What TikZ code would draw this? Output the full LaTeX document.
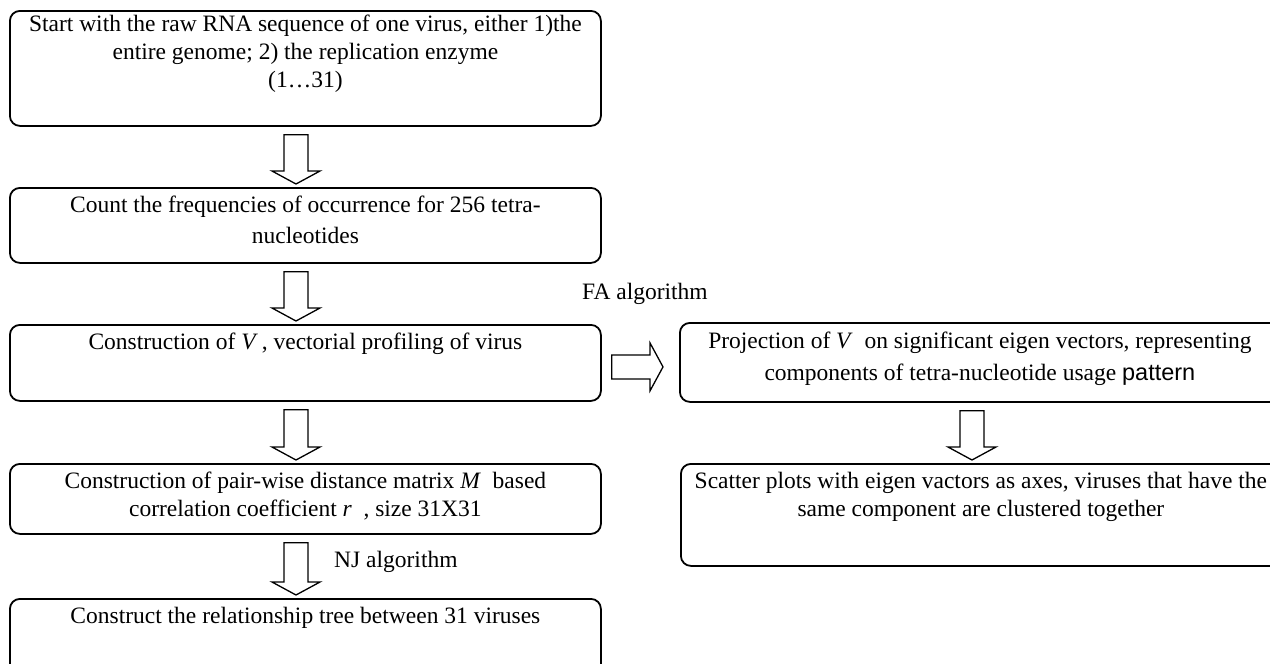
\documentclass[tikz,border=0pt]{standalone}
\usepackage{fontspec}
\setmainfont{Liberation Serif}
\newfontfamily\arialf{Liberation Sans}
\usetikzlibrary{calc}
\newcommand\boxtext[5][28pt]{\parbox[t][#2][t]{#3}{\fontsize{23.5pt}{#1}\selectfont\centering\rule{0pt}{#4}#5}}
\newcommand\blkdown[3]{%
  \draw[blk] let \p1=(#1.south), \p2=(#2.north) in
    (#3-12pt,\y1-8pt) -- (#3+12pt,\y1-8pt) -- (#3+12pt,\y2+16pt) -- (#3+24pt,\y2+16pt)
    -- (#3,\y2+3pt) -- (#3-24pt,\y2+16pt) -- (#3-12pt,\y2+16pt) -- cycle;}
\begin{document}
\begin{tikzpicture}[x=1pt,y=-1pt,
  box/.style={draw, line width=1.8pt, rounded corners=10pt, inner sep=0pt, anchor=north west},
  blk/.style={draw, line width=1.3pt, fill=white, line join=miter},
  lbl/.style={inner sep=0pt, anchor=base west}]
\useasboundingbox (0,0) rectangle (1270,664);
\fontsize{23.5}{28}\selectfont
\node[box] (b1) at (9,10) {\boxtext{115pt}{591pt}{21pt}{Start with the raw RNA sequence of one virus, either 1)the\\ entire genome; 2) the replication enzyme\\ (1…31)}};
\node[box] (b2) at (9,187) {\boxtext[31pt]{75pt}{591pt}{25pt}{Count the frequencies of occurrence for 256 tetra-\\nucleotides}};
\node[box] (b3) at (9,324) {\boxtext{76pt}{591pt}{25pt}{Construction of \textit{V}\,, vectorial profiling of virus}};
\node[box] (b4) at (9,463) {\boxtext{70pt}{591pt}{25pt}{Construction of pair-wise distance matrix \textit{M}\enspace based\\correlation coefficient \textit{r}\enspace, size 31X31}};
\node[box] (b5) at (9,598) {\boxtext{90pt}{591pt}{25pt}{Construct the relationship tree between 31 viruses}};
\node[box] (bA) at (679,322) {\boxtext[32pt]{79pt}{600pt}{26pt}{Projection of \textit{V}\enspace on significant eigen vectors, representing\\components of tetra-nucleotide usage {\arialf pattern}}};
\node[box] (bB) at (680,463) {\boxtext{102pt}{600pt}{25pt}{\makebox[\linewidth][c]{Scatter plots with eigen vactors as axes, viruses that have the}\\same component are clustered together}};
\blkdown{b1}{b2}{296pt}
\blkdown{b2}{b3}{296pt}
\blkdown{b3}{b4}{296pt}
\blkdown{b4}{b5}{296pt}
\blkdown{bA}{bB}{972pt}
\draw[blk] let \p1=(b3.east), \p2=(bA.west) in
  (\x1+10pt,\y1-16pt) -- (\x2-29pt,\y1-16pt) -- (\x2-29pt,\y1-28pt) -- (\x2-16pt,\y1-4pt)
  -- (\x2-29pt,\y1+20pt) -- (\x2-29pt,\y1+8pt) -- (\x1+10pt,\y1+8pt) -- cycle;
\node[lbl] (fa) at (582,299) {FA algorithm};
\node[lbl] (nj) at (334,567) {NJ algorithm};
\end{tikzpicture}
\end{document}
